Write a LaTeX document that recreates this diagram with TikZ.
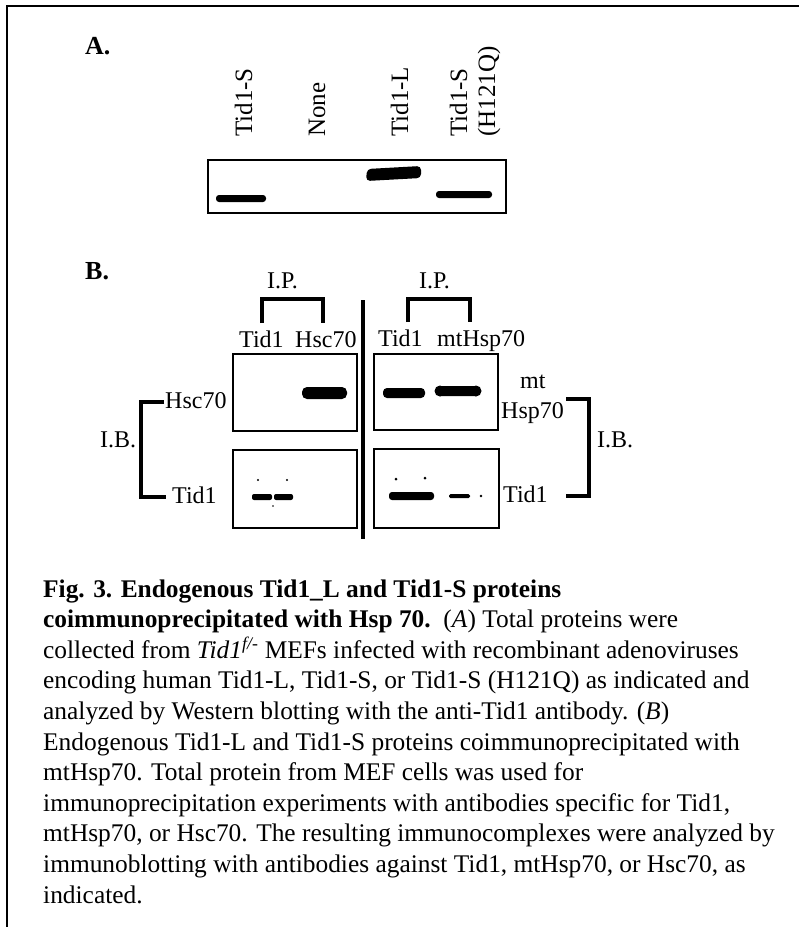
\documentclass[tikz,border=0pt]{standalone}
\usepackage{fontspec}
\setmainfont{Liberation Serif}
\begin{document}
\begin{tikzpicture}[x=1pt,y=-1pt,
  lbl/.style={font=\fontsize{24}{28}\selectfont, inner sep=0pt, anchor=base west},
  rlbl/.style={font=\fontsize{25}{28}\selectfont, inner sep=0pt, rotate=90, anchor=base west},
  panel/.style={font=\bfseries\fontsize{26}{30}\selectfont, inner sep=0pt, anchor=base west},
  captext/.style={font=\fontsize{25.4}{30}\selectfont, inner sep=0pt, anchor=base west},
  blot/.style={draw, line width=2pt, inner sep=0pt, anchor=north west},
  bracket/.style={line width=4pt},
  frame/.style={line width=2.5pt},
  band/.style={fill=black},
  divider/.style={line width=4pt}]
\useasboundingbox (0,0) rectangle (799,927);
% frame (top and left edges)
\coordinate (fl) at (7,927);
\coordinate (fc) at (7,6);
\coordinate (fr) at (799,6);
\draw[frame] (fl) -- (fc) -- (fr);

% ---------- Panel A ----------
\node[panel] (pa) at (85,54) {A.};
\node[rlbl] (la1) at (252,137) {Tid1-S};
\node[rlbl] (la2) at (325,137) {None};
\node[rlbl] (la3) at (408,137) {Tid1-L};
\node[rlbl] (la4) at (467,137) {Tid1-S};
\node[rlbl] (la5) at (495,137) {(H121Q)};
\node[blot, minimum width=298pt, minimum height=53pt] (boxa) at (207,159) {};
\fill[band, rounded corners=3pt] (216,195) rectangle (266,202);
\fill[band, rounded corners=4pt] (367,169) -- (421,166) -- (421,178) -- (366,181) -- cycle;
\fill[band, rounded corners=3pt] (436,191) rectangle (492,198);

% ---------- Panel B ----------
\node[panel] (pb) at (85,279) {B.};
\node[lbl] (ip1) at (267,288) {I.P.};
\node[lbl] (ip2) at (419,288) {I.P.};
% I.P. brackets
\coordinate (b1a) at (262,323); \coordinate (b1b) at (262,299);
\coordinate (b1c) at (323,299); \coordinate (b1d) at (323,323);
\draw[bracket] (b1a) -- (b1b) -- (b1c) -- (b1d);
\coordinate (b2a) at (408,322); \coordinate (b2b) at (408,299);
\coordinate (b2c) at (470,299); \coordinate (b2d) at (470,322);
\draw[bracket] (b2a) -- (b2b) -- (b2c) -- (b2d);
% column labels
\node[lbl] (c1) at (239,347) {Tid1};
\node[lbl] (c2) at (295,347) {Hsc70};
\node[lbl] (c3) at (378,346) {Tid1};
\node[lbl] (c4) at (437,346) {mtHsp70};
% blot boxes
\node[blot, minimum width=124pt, minimum height=77pt] (tl) at (232,353) {};
\node[blot, minimum width=124pt, minimum height=78pt] (bl) at (232,449) {};
\node[blot, minimum width=124pt, minimum height=76pt] (tr) at (373,353) {};
\node[blot, minimum width=125pt, minimum height=79pt] (br) at (373,448) {};
% divider
\coordinate (d1) at (363,300); \coordinate (d2) at (363,539);
\draw[divider] (d1) -- (d2);
% bands
\fill[band, rounded corners=5pt] (302,387) rectangle (347,399);
\fill[band, rounded corners=4pt] (383,388) rectangle (425,398);
\fill[band, rounded corners=4pt] (436,386) rectangle (480,396);
\fill[band] (440,391) circle (5.5pt);
\fill[band] (476,391) circle (5.5pt);
\fill[band, rounded corners=2pt] (252,494) rectangle (272,500);
\fill[band, rounded corners=2pt] (274,494) rectangle (293,500);
\fill[band] (258,480) circle (1.1pt);
\fill[band] (287,480) circle (1.1pt);
\fill[band] (273,506) circle (0.8pt);
\fill[band, rounded corners=3pt] (389,492) rectangle (434,500);
\fill[band, rounded corners=1.5pt] (449,494) rectangle (470,498);
\fill[band] (481,496) circle (1.3pt);
\fill[band] (396,479) circle (1.5pt);
\fill[band] (425,478) circle (1.5pt);
% left side labels and I.B. bracket
\node[lbl] (lh) at (165,408) {Hsc70};
\node[lbl] (lt) at (172,503) {Tid1};
\node[lbl] (ibl) at (100,447) {I.B.};
\coordinate (l1) at (164,402); \coordinate (l2) at (141,402);
\coordinate (l3) at (141,497); \coordinate (l4) at (166,497);
\draw[bracket] (l1) -- (l2) -- (l3) -- (l4);
% right side labels and I.B. bracket
\node[lbl] (rmt) at (520,388) {mt};
\node[lbl] (rh) at (501,418) {Hsp70};
\node[lbl] (rt) at (503,502) {Tid1};
\node[lbl] (ibr) at (597,447) {I.B.};
\coordinate (r1) at (566,399); \coordinate (r2) at (589,399);
\coordinate (r3) at (589,496); \coordinate (r4) at (566,496);
\draw[bracket] (r1) -- (r2) -- (r3) -- (r4);

% ---------- Caption ----------
\node[captext] (t1) at (43,597) {\textbf{Fig. 3. Endogenous Tid1\_L and Tid1-S proteins}};
\node[captext] (t2) at (43,627.6) {\textbf{coimmunoprecipitated with Hsp 70.}\ \ (\textit{A}) Total proteins were};
\node[captext] (t3) at (43,658.2) {collected from \textit{Tid1}\textsuperscript{\textit{f/-}} MEFs infected with recombinant adenoviruses};
\node[captext] (t4) at (43,688.8) {encoding human Tid1-L, Tid1-S, or Tid1-S (H121Q) as indicated and};
\node[captext] (t5) at (43,719.4) {analyzed by Western blotting with the anti-Tid1 antibody. (\textit{B})};
\node[captext] (t6) at (43,750) {Endogenous Tid1-L and Tid1-S proteins coimmunoprecipitated with};
\node[captext] (t7) at (43,780.6) {mtHsp70. Total protein from MEF cells was used for};
\node[captext] (t8) at (43,811.2) {immunoprecipitation experiments with antibodies specific for Tid1,};
\node[captext] (t9) at (43,841.8) {mtHsp70, or Hsc70. The resulting immunocomplexes were analyzed by};
\node[captext] (t10) at (43,872.4) {immunoblotting with antibodies against Tid1, mtHsp70, or Hsc70, as};
\node[captext] (t11) at (43,903) {indicated.};
\end{tikzpicture}
\end{document}
